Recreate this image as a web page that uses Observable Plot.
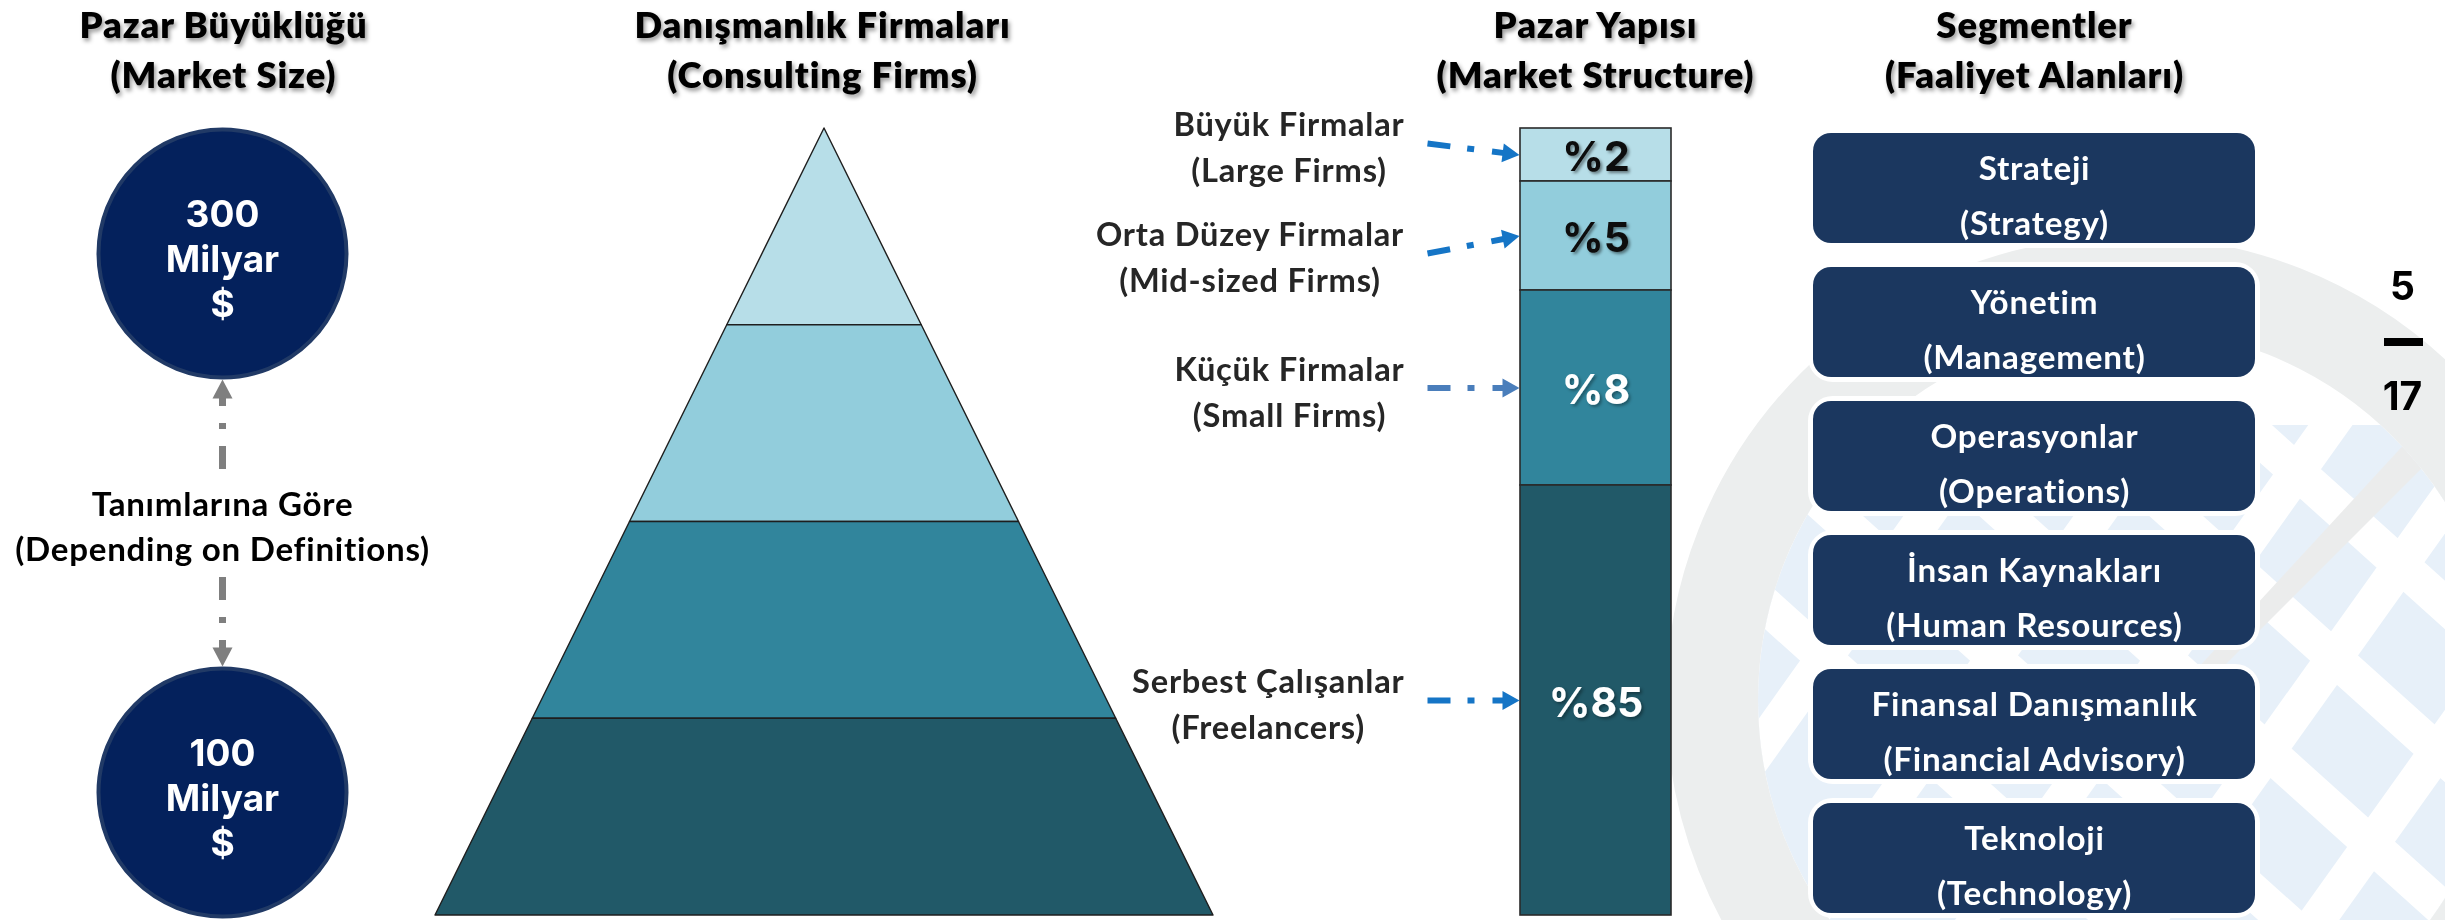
<!DOCTYPE html>
<html><head><meta charset="utf-8">
<script src="https://cdn.jsdelivr.net/npm/d3@7"></script>
<script src="https://cdn.jsdelivr.net/npm/@observablehq/plot@0.6"></script>
<style>
html,body{margin:0;padding:0;background:#fff;}
#root{position:relative;width:2445px;height:920px;overflow:hidden;background:#fff;}
#root svg{position:absolute;left:0;top:0;}
</style></head><body>
<div id="root">
<svg id="wm" width="2445" height="920" viewBox="0 0 2445 920">
  <defs>
    <clipPath id="globe"><circle cx="2130" cy="700" r="372"/></clipPath>
    <clipPath id="lower"><rect x="1600" y="425" width="900" height="600"/></clipPath>
  </defs>
  <g clip-path="url(#globe)">
    <g clip-path="url(#lower)">
      <rect x="1700" y="300" width="800" height="700" fill="#e7f0f9"/>
      <g stroke="#ffffff" stroke-width="36">
        <line x1="1315" y1="200" x2="2204" y2="1000"/>
        <line x1="1485" y1="200" x2="2374" y2="1000"/>
        <line x1="1655" y1="200" x2="2544" y2="1000"/>
        <line x1="1825" y1="200" x2="2714" y2="1000"/>
        <line x1="1995" y1="200" x2="2884" y2="1000"/>
        <line x1="2151" y1="200" x2="1580" y2="1000"/>
        <line x1="2321" y1="200" x2="1750" y2="1000"/>
        <line x1="2491" y1="200" x2="1920" y2="1000"/>
        <line x1="2661" y1="200" x2="2090" y2="1000"/>
        <line x1="2831" y1="200" x2="2260" y2="1000"/>
      </g>
    </g>
    <polygon points="2445,400 2445,445 2150,740 2138,733" fill="#ebecec"/>
  </g>
  <circle cx="2130" cy="700" r="418" fill="none" stroke="#eceeee" stroke-width="92"/>
</svg>
</div>
<script>
// ---------------- DATA ----------------
const columnTitles = ["Pazar Büyüklüğü", "Danışmanlık Firmaları", "Pazar Yapısı", "Segmentler"];
const columnSubtitles = ["(Market Size)", "(Consulting Firms)", "(Market Structure)", "(Faaliyet Alanları)"];
const marketSizes = [300, 100];
const marketUnit = "Milyar";
const currency = "$";
const sizeNote = ["Tanımlarına Göre", "(Depending on Definitions)"];
const firmTiersTR = ["Büyük Firmalar", "Orta Düzey Firmalar", "Küçük Firmalar", "Serbest Çalışanlar"];
const firmTiersEN = ["(Large Firms)", "(Mid-sized Firms)", "(Small Firms)", "(Freelancers)"];
const marketShares = [2, 5, 8, 85];
const segmentsTR = ["Strateji", "Yönetim", "Operasyonlar", "İnsan Kaynakları", "Finansal Danışmanlık", "Teknoloji"];
const segmentsEN = ["(Strategy)", "(Management)", "(Operations)", "(Human Resources)", "(Financial Advisory)", "(Technology)"];
const pageNumbers = [5, 17];

// ---------------- LAYOUT & STYLE ----------------
const W = 2445, H = 920;
const columnX = [223, 822, 1595, 2034];
const titleY = 46;
const circleX = 222, circleYs = [253, 792], circleR = 124;
const pyramidX = [435, 1213], pyramidY = [128, 915];
const barX = [1520, 1671], barStops = [128, 181, 290, 485, 915];
const boxX = [1813, 2255], boxY = [132, 913];
const tierColors = ["#B7DEE8", "#92CDDC", "#31859C", "#215968"];
const shareTextColors = ["#111111", "#111111", "#ffffff", "#ffffff"];
const labelNudge = [-11.5, 17.5, 0, 0];
const labelRight = 1404, arrowTailX = 1427;
const arrowColors = ["#1575C6", "#1575C6", "#4A7EBB", "#1575C6"];
const F_CAL = "Lato, 'Open Sans', sans-serif";
const F_GEO = "Inter, 'Noto Sans', sans-serif";
// reference text widths used to size the Calibri-like text
const targetWidths = {title: ["Pazar Büyüklüğü", 289, 800], note: ["(Depending on Definitions)", 415, 700],
  label: ["Orta Düzey Firmalar", 309, 700], box: ["Finansal Danışmanlık", 326, 700]};

const ctx = document.createElement("canvas").getContext("2d");
function measure(text, size, weight) { ctx.font = `${weight} ${size}px Lato`; return ctx.measureText(text).width; }
function fit([text, target, weight], shrink = 1.05) {
  const s0 = target / (measure(text, 100, weight) / 100);
  const size = s0 / shrink;
  const ls = (target - measure(text, size, weight)) / text.length;
  return {size, ls, weight};
}
const fTitle = fit(targetWidths.title), fNote = fit(targetWidths.note), fLabel = fit(targetWidths.label), fBox = fit(targetWidths.box);

const root = document.getElementById("root");
function base(extra) {
  return Object.assign({
    width: W, height: H, margin: 0,
    style: {position: "absolute", left: "0px", top: "0px", background: "transparent", overflow: "visible"}
  }, extra);
}
function groups(svg, desc) { return svg.querySelectorAll(`g[aria-description="${desc}"]`); }
function addShadow(svg, id, dx, dy, blur, opacity, desc) {
  const ns = "http://www.w3.org/2000/svg";
  const defs = document.createElementNS(ns, "defs");
  defs.innerHTML = `<filter id="${id}" x="-30%" y="-30%" width="160%" height="160%"><feDropShadow dx="${dx}" dy="${dy}" stdDeviation="${blur}" flood-color="#000" flood-opacity="${opacity}"/></filter>`;
  svg.insertBefore(defs, svg.firstChild);
  groups(svg, desc).forEach(g => g.setAttribute("filter", `url(#${id})`));
}
function spacing(svg, desc, ls) { groups(svg, desc).forEach(g => g.setAttribute("letter-spacing", ls.toFixed(2))); }

// ---------------- PYRAMID ----------------
const nT = firmTiersTR.length;
const pyrPts = firmTiersTR.flatMap((t, i) => [i, i + 1].map(k => ({tier: t, idx: i, level: k, half: k / nT})));
const pyr = Plot.plot(base({
  x: {domain: [-1, 1], range: pyramidX, axis: null},
  y: {domain: [0, nT], range: pyramidY, axis: null},
  color: {type: "identity"},
  marks: [
    Plot.areaX(pyrPts, {y: "level", x1: d => -d.half, x2: d => d.half, z: "tier",
      fill: d => tierColors[d.idx], stroke: "#1e1e1e", strokeWidth: 1.4})
  ]
}));
root.appendChild(pyr);

// ---------------- STACKED BAR ----------------
const shareData = marketShares.map((s, i) => ({tier: firmTiersTR[i], share: s, i}));
const cum = Array.from(d3.cumsum([0, ...marketShares]));
const yBar = d3.scaleLinear(cum, barStops);
const barPlot = Plot.plot(base({
  x: {domain: [0, 1], range: barX, axis: null},
  y: {type: "linear", domain: cum, range: barStops, axis: null},
  color: {type: "identity"},
  marks: [
    Plot.rectY(shareData, {x1: 0, x2: 1, y: "share", fill: d => tierColors[d.i], stroke: "#2a2a2a", strokeWidth: 1.6}),
    Plot.text(shareData, Plot.stackY({x: 0.5, y: "share", text: d => d.i < 2 ? "%" + d.share : "",
      fill: d => shareTextColors[d.i], fontFamily: F_GEO, fontWeight: 700, fontSize: 41, dy: 3, ariaDescription: "darkshare"})),
    Plot.text(shareData, Plot.stackY({x: 0.5, y: "share", text: d => d.i >= 2 ? "%" + d.share : "",
      fill: d => shareTextColors[d.i], fontFamily: F_GEO, fontWeight: 700, fontSize: 41, dy: 3, ariaDescription: "lightshare"}))
  ]
}));
root.appendChild(barPlot);
addShadow(barPlot, "sh1", 2, 2, 1.5, 0.45, "darkshare");
addShadow(barPlot, "sh2", 2, 2, 1.5, 0.35, "lightshare");

// ---------------- SEGMENT BOXES ----------------
const segData = segmentsTR.map((tr, i) => ({tr, en: segmentsEN[i]}));
const segPlot = Plot.plot(base({
  x: {domain: [0, 1], range: boxX, axis: null},
  y: {type: "band", domain: segmentsTR, range: boxY, paddingInner: 0.18, paddingOuter: 0, axis: null},
  marks: [
    Plot.barX(segData, {x1: 0, x2: 1, y: "tr", fill: "#ffffff", stroke: "#ffffff", strokeWidth: 10, rx: 20}),
    Plot.barX(segData, {x1: 0, x2: 1, y: "tr", fill: "#1B375F", rx: 18}),
    Plot.text(segData, {x: 0.5, y: "tr", text: d => d.tr + "\n" + d.en, fill: "#ffffff", dy: 1,
      fontFamily: F_CAL, fontWeight: fBox.weight, fontSize: fBox.size, lineHeight: 55 / fBox.size, ariaDescription: "boxtext"})
  ]
}));
root.appendChild(segPlot);
spacing(segPlot, "boxtext", fBox.ls);

// ---------------- LAYOUT LAYER (titles, circles, labels, arrows) ----------------
const yCircle = d3.scalePoint(marketSizes.map(String), circleYs);
const sizeData = marketSizes.map(v => ({v, y: yCircle(String(v))}));
const noteMid = (sizeData[0].y + sizeData[1].y) / 2;

function arrow(x1, y1, x2, y2, L, Wd, color) {
  const dx = x2 - x1, dy = y2 - y1, len = Math.hypot(dx, dy), ux = dx / len, uy = dy / len;
  const bx = x2 - ux * L, by = y2 - uy * L, px = -uy, py = ux;
  return {
    shaft: {x1, y1, x2: bx + ux * 2, y2: by + uy * 2, color},
    head: [{x: x2, y: y2}, {x: bx + px * Wd / 2, y: by + py * Wd / 2}, {x: bx - px * Wd / 2, y: by - py * Wd / 2}],
    color
  };
}
const greyArrows = [
  arrow(circleX, noteMid - 54, circleX, sizeData[0].y + 126, 19, 20, "#7f7f7f"),
  arrow(circleX, noteMid + 54, circleX, sizeData[1].y - 126, 19, 20, "#7f7f7f")
];
const labelData = firmTiersTR.map((t, i) => {
  const mid = yBar(cum[i] + marketShares[i] / 2);
  const w = Math.max(...[t, firmTiersEN[i]].map(s => measure(s, fLabel.size, fLabel.weight) + fLabel.ls * s.length));
  return {text: t + "\n" + firmTiersEN[i], x: labelRight - w / 2, y: mid + labelNudge[i] + 1, mid, i};
});
const blueArrows = labelData.map(d => arrow(arrowTailX, d.y - 1, barX[0] - 1, d.mid, 17, 19, arrowColors[d.i]));

const titleData = columnTitles.map((t, i) => ({text: t + "\n" + columnSubtitles[i], x: columnX[i]}));

const layout = Plot.plot(base({
  x: {domain: [0, W], range: [0, W], axis: null},
  y: {domain: [0, H], range: [0, H], axis: null},
  color: {type: "identity"},
  marks: [
    Plot.text(titleData, {x: "x", y: titleY, text: "text", fontFamily: F_CAL, fontWeight: fTitle.weight, fontSize: fTitle.size,
      lineHeight: 50 / fTitle.size, fill: "#000000", ariaDescription: "titles"}),
    Plot.dot(sizeData, {x: circleX, y: "y", r: circleR, fill: "#04215C", stroke: "#213A66", strokeWidth: 4}),
    Plot.text(sizeData, {x: circleX, y: d => d.y + 4, text: d => `${d.v}\n${marketUnit}\n${currency}`, fill: "#ffffff",
      fontFamily: F_GEO, fontWeight: 700, fontSize: 37, lineHeight: 45 / 37}),
    Plot.text([sizeNote.join("\n")], {x: circleX, y: noteMid + 1, text: d => d, fill: "#000000",
      fontFamily: F_CAL, fontWeight: fNote.weight, fontSize: fNote.size, lineHeight: 45 / fNote.size, ariaDescription: "note"}),
    Plot.link(greyArrows.map(a => a.shaft), {x1: "x1", y1: "y1", x2: "x2", y2: "y2", stroke: "color",
      strokeWidth: 7, strokeDasharray: "23,17,6,17"}),
    ...greyArrows.map(a => Plot.line(a.head, {x: "x", y: "y", fill: a.color, stroke: "none"})),
    Plot.text(labelData, {x: "x", y: "y", text: "text", fill: "#262626", fontFamily: F_CAL, fontWeight: fLabel.weight,
      fontSize: fLabel.size, lineHeight: 46 / fLabel.size, ariaDescription: "labels"}),
    Plot.link(blueArrows.map(a => a.shaft), {x1: "x1", y1: "y1", x2: "x2", y2: "y2", stroke: "color",
      strokeWidth: 6, strokeDasharray: "23,17,7,18"}),
    ...blueArrows.map(a => Plot.line(a.head, {x: "x", y: "y", fill: a.color, stroke: "none"})),
    Plot.text([pageNumbers[0]], {x: 2402, y: 287, text: d => String(d), fill: "#000000", fontFamily: F_GEO, fontWeight: 700, fontSize: 39}),
    Plot.ruleY([(287 + 397) / 2 - 0.5], {x1: 2384, x2: 2423, stroke: "#000000", strokeWidth: 8}),
    Plot.text([pageNumbers[1]], {x: 2402, y: 397, text: d => String(d), fill: "#000000", fontFamily: F_GEO, fontWeight: 700, fontSize: 39})
  ]
}));
root.appendChild(layout);
addShadow(layout, "sh3", 2, 3, 2, 0.4, "titles");
spacing(layout, "titles", fTitle.ls);
spacing(layout, "note", fNote.ls);
spacing(layout, "labels", fLabel.ls);
</script>
</body></html>
